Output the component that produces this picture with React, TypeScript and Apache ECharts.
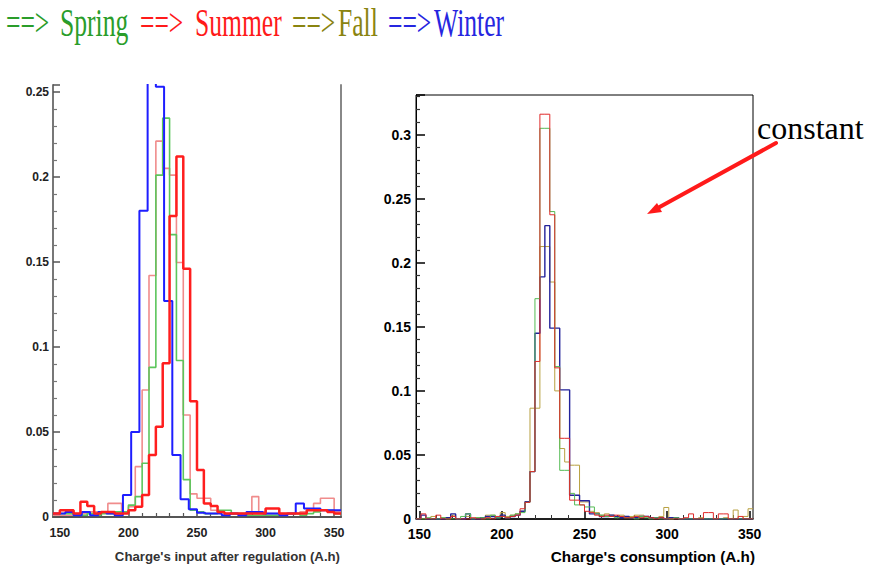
import React, { useEffect, useRef } from "react";
import * as echarts from "echarts";

// ---------- data ----------
// Left chart: charge's input after regulation (A.h), x range 145..355
const LEFT_X_MIN = 145;
const LEFT_X_MAX = 355;
// 5 A.h bins starting at 145
const leftSpring = [
  0.002, 0.002, 0.002, 0.001, 0.001, 0.002, 0.001, 0.002, 0.002, 0.003,
  0.003, 0.007, 0.012, 0.0316, 0.088, 0.201, 0.2345, 0.166, 0.092, 0.022,
  0.004, 0.003, 0.002, 0.002, 0.004, 0.004, 0.002, 0.002, 0.001, 0.001,
  0.001, 0.001, 0.001, 0.001, 0.002, 0.002, 0.001, 0.002, 0.003, 0.004,
  0.004, 0.002,
];
const leftSummer = [
  0.002, 0.004, 0.004, 0.002, 0.009, 0.0065, 0.002, 0.003, 0.003, 0.002,
  0.002, 0.004, 0.006, 0.013, 0.0365, 0.053, 0.0904, 0.177, 0.212, 0.146,
  0.068, 0.0276, 0.008, 0.0065, 0.003, 0.002, 0.002, 0.002, 0.002, 0.002,
  0.002, 0.005, 0.005, 0.002, 0.002, 0.002, 0.002, 0.004, 0.004, 0.004,
  0.003, 0.002,
];
const leftFall = [
  0.001, 0.001, 0.001, 0.002, 0.002, 0.003, 0.003, 0.003, 0.008, 0.008,
  0.003, 0.006, 0.0296, 0.0747, 0.142, 0.221, 0.205, 0.201, 0.1496, 0.06,
  0.0136, 0.011, 0.011, 0.004, 0.003, 0.002, 0.002, 0.002, 0.002, 0.012,
  0.003, 0.002, 0.002, 0.002, 0.002, 0.002, 0.003, 0.004, 0.008, 0.011,
  0.011, 0.003,
];
// 6 A.h bins starting at 148
const leftWinter = [
  0.002, 0.003, 0.001, 0.003, 0.001, 0.003, 0.002, 0.001, 0.013, 0.05,
  0.18, 0.29, 0.253, 0.127, 0.0365, 0.0104, 0.0045, 0.0025, 0.002, 0.002,
  0.001, 0.002, 0.001, 0.003, 0.003, 0.002, 0.002, 0.001, 0.002, 0.008,
  0.005, 0.005, 0.004, 0.004,
];
const LEFT_X_MAJOR = [150, 200, 250, 300, 350];
const LEFT_X_MINOR = [160, 170, 180, 190, 210, 220, 230, 240, 260, 270, 280, 290, 310, 320, 330, 340];

// Right chart: charge's consumption (A.h), x range 148..352, 3 A.h bins from 148
const RIGHT_X_MIN = 148;
const RIGHT_X_MAX = 352;
const rightSpring = [
  0, 0, 0.001, 0, 0, 0.001, 0, 0, 0, 0.002,
  0.004, 0, 0.001, 0.001, 0, 0.003, 0.001, 0.002, 0.001, 0.003,
  0.004, 0.005, 0.013, 0.037, 0.172, 0.305, 0.305, 0.24, 0.119, 0.038,
  0.038, 0.02, 0.011, 0.011, 0.0094, 0.0094, 0.004, 0.003, 0.002, 0.002,
  0.001, 0.002, 0.001, 0.001, 0, 0.002, 0.001, 0, 0.001, 0,
  0, 0, 0.001, 0, 0, 0, 0, 0, 0, 0,
  0, 0, 0, 0, 0, 0, 0, 0,
];
const rightSummer = [
  0, 0.004, 0, 0, 0.003, 0, 0, 0.002, 0, 0,
  0, 0.001, 0, 0, 0.001, 0, 0.002, 0.002, 0.001, 0.002,
  0.003, 0.008, 0.013, 0.037, 0.123, 0.316, 0.316, 0.2375, 0.118, 0.063,
  0.063, 0.0147, 0.0147, 0.011, 0.006, 0.005, 0.003, 0.002, 0.003, 0.002,
  0.003, 0.002, 0.001, 0.001, 0.002, 0.001, 0.002, 0.001, 0, 0.001,
  0, 0, 0, 0, 0.001, 0.004, 0, 0, 0.005, 0.005,
  0, 0.004, 0.004, 0, 0, 0.002, 0, 0,
];
const rightWinter = [
  0, 0.003, 0, 0, 0, 0, 0.001, 0.004, 0, 0,
  0.004, 0, 0, 0.001, 0.002, 0.002, 0.001, 0.003, 0.001, 0.002,
  0.003, 0.006, 0.0135, 0.037, 0.145, 0.189, 0.229, 0.149, 0.149, 0.1008,
  0.1008, 0.0185, 0.0185, 0.0142, 0.0142, 0.004, 0.004, 0.002, 0.002, 0.003,
  0.002, 0.001, 0.002, 0.001, 0.001, 0.002, 0.002, 0.001, 0.001, 0.001,
  0, 0.001, 0.001, 0, 0, 0, 0, 0, 0, 0,
  0, 0, 0, 0, 0, 0, 0, 0,
];
const rightFall = [
  0, 0, 0, 0.002, 0, 0.001, 0, 0.003, 0, 0,
  0.002, 0, 0.001, 0, 0.003, 0.003, 0.001, 0.005, 0.002, 0.003,
  0.004, 0.006, 0.0135, 0.0865, 0.0865, 0.2127, 0.2127, 0.185, 0.1, 0.055,
  0.0445, 0.042, 0.042, 0.0133, 0.0133, 0.006, 0.005, 0.003, 0.004, 0.003,
  0.002, 0.003, 0.002, 0.002, 0.003, 0.003, 0.002, 0.001, 0.001, 0.002,
  0.009, 0, 0.001, 0, 0, 0, 0, 0.001, 0, 0,
  0, 0, 0.001, 0, 0.007, 0, 0.002, 0.008,
];
const RIGHT_X_MAJOR = [150, 200, 250, 300, 350];
const RIGHT_X_MINOR = [160, 170, 180, 190, 210, 220, 230, 240, 260, 270, 280, 290, 310, 320, 330, 340];

const seasonNames = ["Spring", "Summer", "Fall", "Winter"];
const seasonTitleColors = ["#2a9d2a", "#ff1a1a", "#8a8410", "#2626e0"];
const leftTitle = "Charge's input after regulation (A.h)";
const rightTitle = "Charge's consumption (A.h)";
const noteText = "constant";

// ---------- helpers ----------
function steps(values: number[], start: number, width: number, lo: number, hi: number) {
  const pts: number[][] = [];
  for (let i = 0; i < values.length; i++) {
    const x = i === 0 ? lo : start + width * i;
    if (x >= hi) break;
    pts.push([x, values[i]]);
  }
  pts.push([hi, pts[pts.length - 1][1]]);
  return pts;
}

const SANS = "Liberation Sans";
const SERIF = "Liberation Serif";

function histSeries(name: string, data: number[][], xi: number, yi: number, color: string, width: number, z: number) {
  return {
    name,
    type: "line",
    xAxisIndex: xi,
    yAxisIndex: yi,
    step: "end",
    symbol: "none",
    showSymbol: false,
    data,
    lineStyle: { color, width },
    z,
    silent: true,
  };
}

export default function App() {
  const ref = useRef<HTMLDivElement>(null);
  useEffect(() => {
    const chart = echarts.init(ref.current!, undefined, { renderer: "svg" });

    const titleGraphics: any[] = [];
    const arrowX = [6, 140, 292, 388];
    const nameX = [60, 195, 338, 434];
    seasonNames.forEach((n, i) => {
      titleGraphics.push({
        type: "text", x: arrowX[i], y: 22, scaleX: 0.64,
        style: { text: "==>", fill: seasonTitleColors[i], fontSize: 40, fontFamily: SERIF, verticalAlign: "middle" },
      });
      titleGraphics.push({
        type: "text", x: nameX[i], y: 22, scaleX: 0.64,
        style: { text: n, fill: seasonTitleColors[i], fontSize: 40, fontFamily: SERIF, verticalAlign: "middle" },
      });
    });

    const option: any = {
      animation: false,
      backgroundColor: "#ffffff",
      grid: [
        { left: 53, top: 85, width: 288, height: 432 },
        { left: 416, top: 95, width: 337, height: 424, show: true, borderColor: "#000", borderWidth: 1, backgroundColor: "transparent" },
      ],
      xAxis: [
        {
          gridIndex: 0, type: "value", min: LEFT_X_MIN, max: LEFT_X_MAX, position: "bottom",
          axisLine: { show: true, onZero: false, lineStyle: { color: "#555", width: 2 } },
          axisTick: { show: true, inside: true, length: 7, customValues: LEFT_X_MAJOR, lineStyle: { color: "#555", width: 1.5 } },
          axisLabel: { customValues: LEFT_X_MAJOR, margin: 9, fontSize: 12.5, fontWeight: "bold", color: "#222", fontFamily: SANS },
          splitLine: { show: false },
        },
        {
          gridIndex: 0, type: "value", min: LEFT_X_MIN, max: LEFT_X_MAX, position: "bottom",
          axisLine: { show: false },
          axisTick: { show: true, inside: true, length: 4, customValues: LEFT_X_MINOR, lineStyle: { color: "#555", width: 1.2 } },
          axisLabel: { show: false },
          splitLine: { show: false },
        },
        {
          gridIndex: 1, type: "value", min: RIGHT_X_MIN, max: RIGHT_X_MAX, position: "bottom",
          axisLine: { show: true, onZero: false, lineStyle: { color: "#000", width: 1.5 } },
          axisTick: { show: true, inside: true, length: 8, customValues: RIGHT_X_MAJOR, lineStyle: { color: "#000", width: 1.5 } },
          axisLabel: { customValues: RIGHT_X_MAJOR, margin: 8, fontSize: 14, fontWeight: "bold", color: "#000", fontFamily: SANS },
          splitLine: { show: false },
        },
        {
          gridIndex: 1, type: "value", min: RIGHT_X_MIN, max: RIGHT_X_MAX, position: "bottom",
          axisLine: { show: false },
          axisTick: { show: true, inside: true, length: 4, customValues: RIGHT_X_MINOR, lineStyle: { color: "#333", width: 1 } },
          axisLabel: { show: false },
          splitLine: { show: false },
        },
      ],
      yAxis: [
        {
          gridIndex: 0, type: "value", min: 0, max: 0.254, interval: 0.05, position: "left",
          axisLine: { show: true, onZero: false, lineStyle: { color: "#777", width: 2 } },
          axisTick: { show: true, inside: true, length: 7, lineStyle: { color: "#555", width: 1.5 } },
          minorTick: { show: true, splitNumber: 5, length: 4, lineStyle: { color: "#777", width: 1.2 } },
          axisLabel: { margin: 4, fontSize: 12, fontWeight: "bold", color: "#222", fontFamily: SANS, showMaxLabel: false },
          splitLine: { show: false },
          minorSplitLine: { show: false },
        },
        {
          gridIndex: 0, type: "value", min: 0, max: 0.254, position: "right",
          axisLine: { show: true, onZero: false, lineStyle: { color: "#888", width: 2 } },
          axisTick: { show: false },
          axisLabel: { show: false },
          splitLine: { show: false },
        },
        {
          gridIndex: 1, type: "value", min: 0, max: 0.331, interval: 0.05, position: "left",
          axisLine: { show: true, onZero: false, lineStyle: { color: "#000", width: 1 } },
          axisTick: { show: true, inside: true, length: 9, lineStyle: { color: "#000", width: 1.5 } },
          minorTick: { show: true, splitNumber: 5, length: 4, lineStyle: { color: "#333", width: 1.2 } },
          axisLabel: { margin: 5, fontSize: 14, fontWeight: "bold", color: "#000", fontFamily: SANS, showMaxLabel: false },
          splitLine: { show: false },
          minorSplitLine: { show: false },
        },
      ],
      series: [
        histSeries("Fall", steps(leftFall, LEFT_X_MIN, 5, LEFT_X_MIN, LEFT_X_MAX), 0, 0, "#f08c8c", 1.6, 2),
        histSeries("Spring", steps(leftSpring, LEFT_X_MIN, 5, LEFT_X_MIN, LEFT_X_MAX), 0, 0, "#5cc65c", 1.6, 3),
        histSeries("Winter", steps(leftWinter, 148, 6, LEFT_X_MIN, LEFT_X_MAX), 0, 0, "#1e1eff", 2, 4),
        histSeries("Summer", steps(leftSummer, LEFT_X_MIN, 5, LEFT_X_MIN, LEFT_X_MAX), 0, 0, "#ff1e1e", 2.5, 5),
        histSeries("Fall", steps(rightFall, RIGHT_X_MIN, 3, RIGHT_X_MIN, RIGHT_X_MAX), 2, 2, "#b8a040", 1, 2),
        histSeries("Winter", steps(rightWinter, RIGHT_X_MIN, 3, RIGHT_X_MIN, RIGHT_X_MAX), 2, 2, "#22229a", 1.4, 3),
        histSeries("Spring", steps(rightSpring, RIGHT_X_MIN, 3, RIGHT_X_MIN, RIGHT_X_MAX), 2, 2, "#55bb55", 1, 4),
        histSeries("Summer", steps(rightSummer, RIGHT_X_MIN, 3, RIGHT_X_MIN, RIGHT_X_MAX), 2, 2, "#e02a2a", 1, 5),
      ],
      graphic: [
        ...titleGraphics,
        {
          type: "text", x: 340, y: 556,
          style: { text: leftTitle, fill: "#333", fontSize: 13.2, fontWeight: "bold", fontFamily: SANS, align: "right", verticalAlign: "middle" },
        },
        {
          type: "text", x: 755, y: 556,
          style: { text: rightTitle, fill: "#000", fontSize: 15.3, fontWeight: "bold", fontFamily: SANS, align: "right", verticalAlign: "middle" },
        },
        {
          type: "text", x: 757, y: 128,
          style: { text: noteText, fill: "#000", fontSize: 32, fontFamily: SERIF, verticalAlign: "middle" },
        },
        {
          type: "line",
          shape: { x1: 776, y1: 143, x2: 656, y2: 209 },
          style: { stroke: "#ff1a1a", lineWidth: 4, lineCap: "round" },
        },
        {
          type: "polygon",
          shape: { points: [[647, 214], [662, 212], [657, 203]] },
          style: { fill: "#ff1a1a" },
        },
      ],
    };
    chart.setOption(option);
    return () => chart.dispose();
  }, []);
  return (
    <div
      ref={ref}
      style={{ position: "fixed", left: 0, top: 0, width: 871, height: 566, background: "#fff" }}
    />
  );
}
